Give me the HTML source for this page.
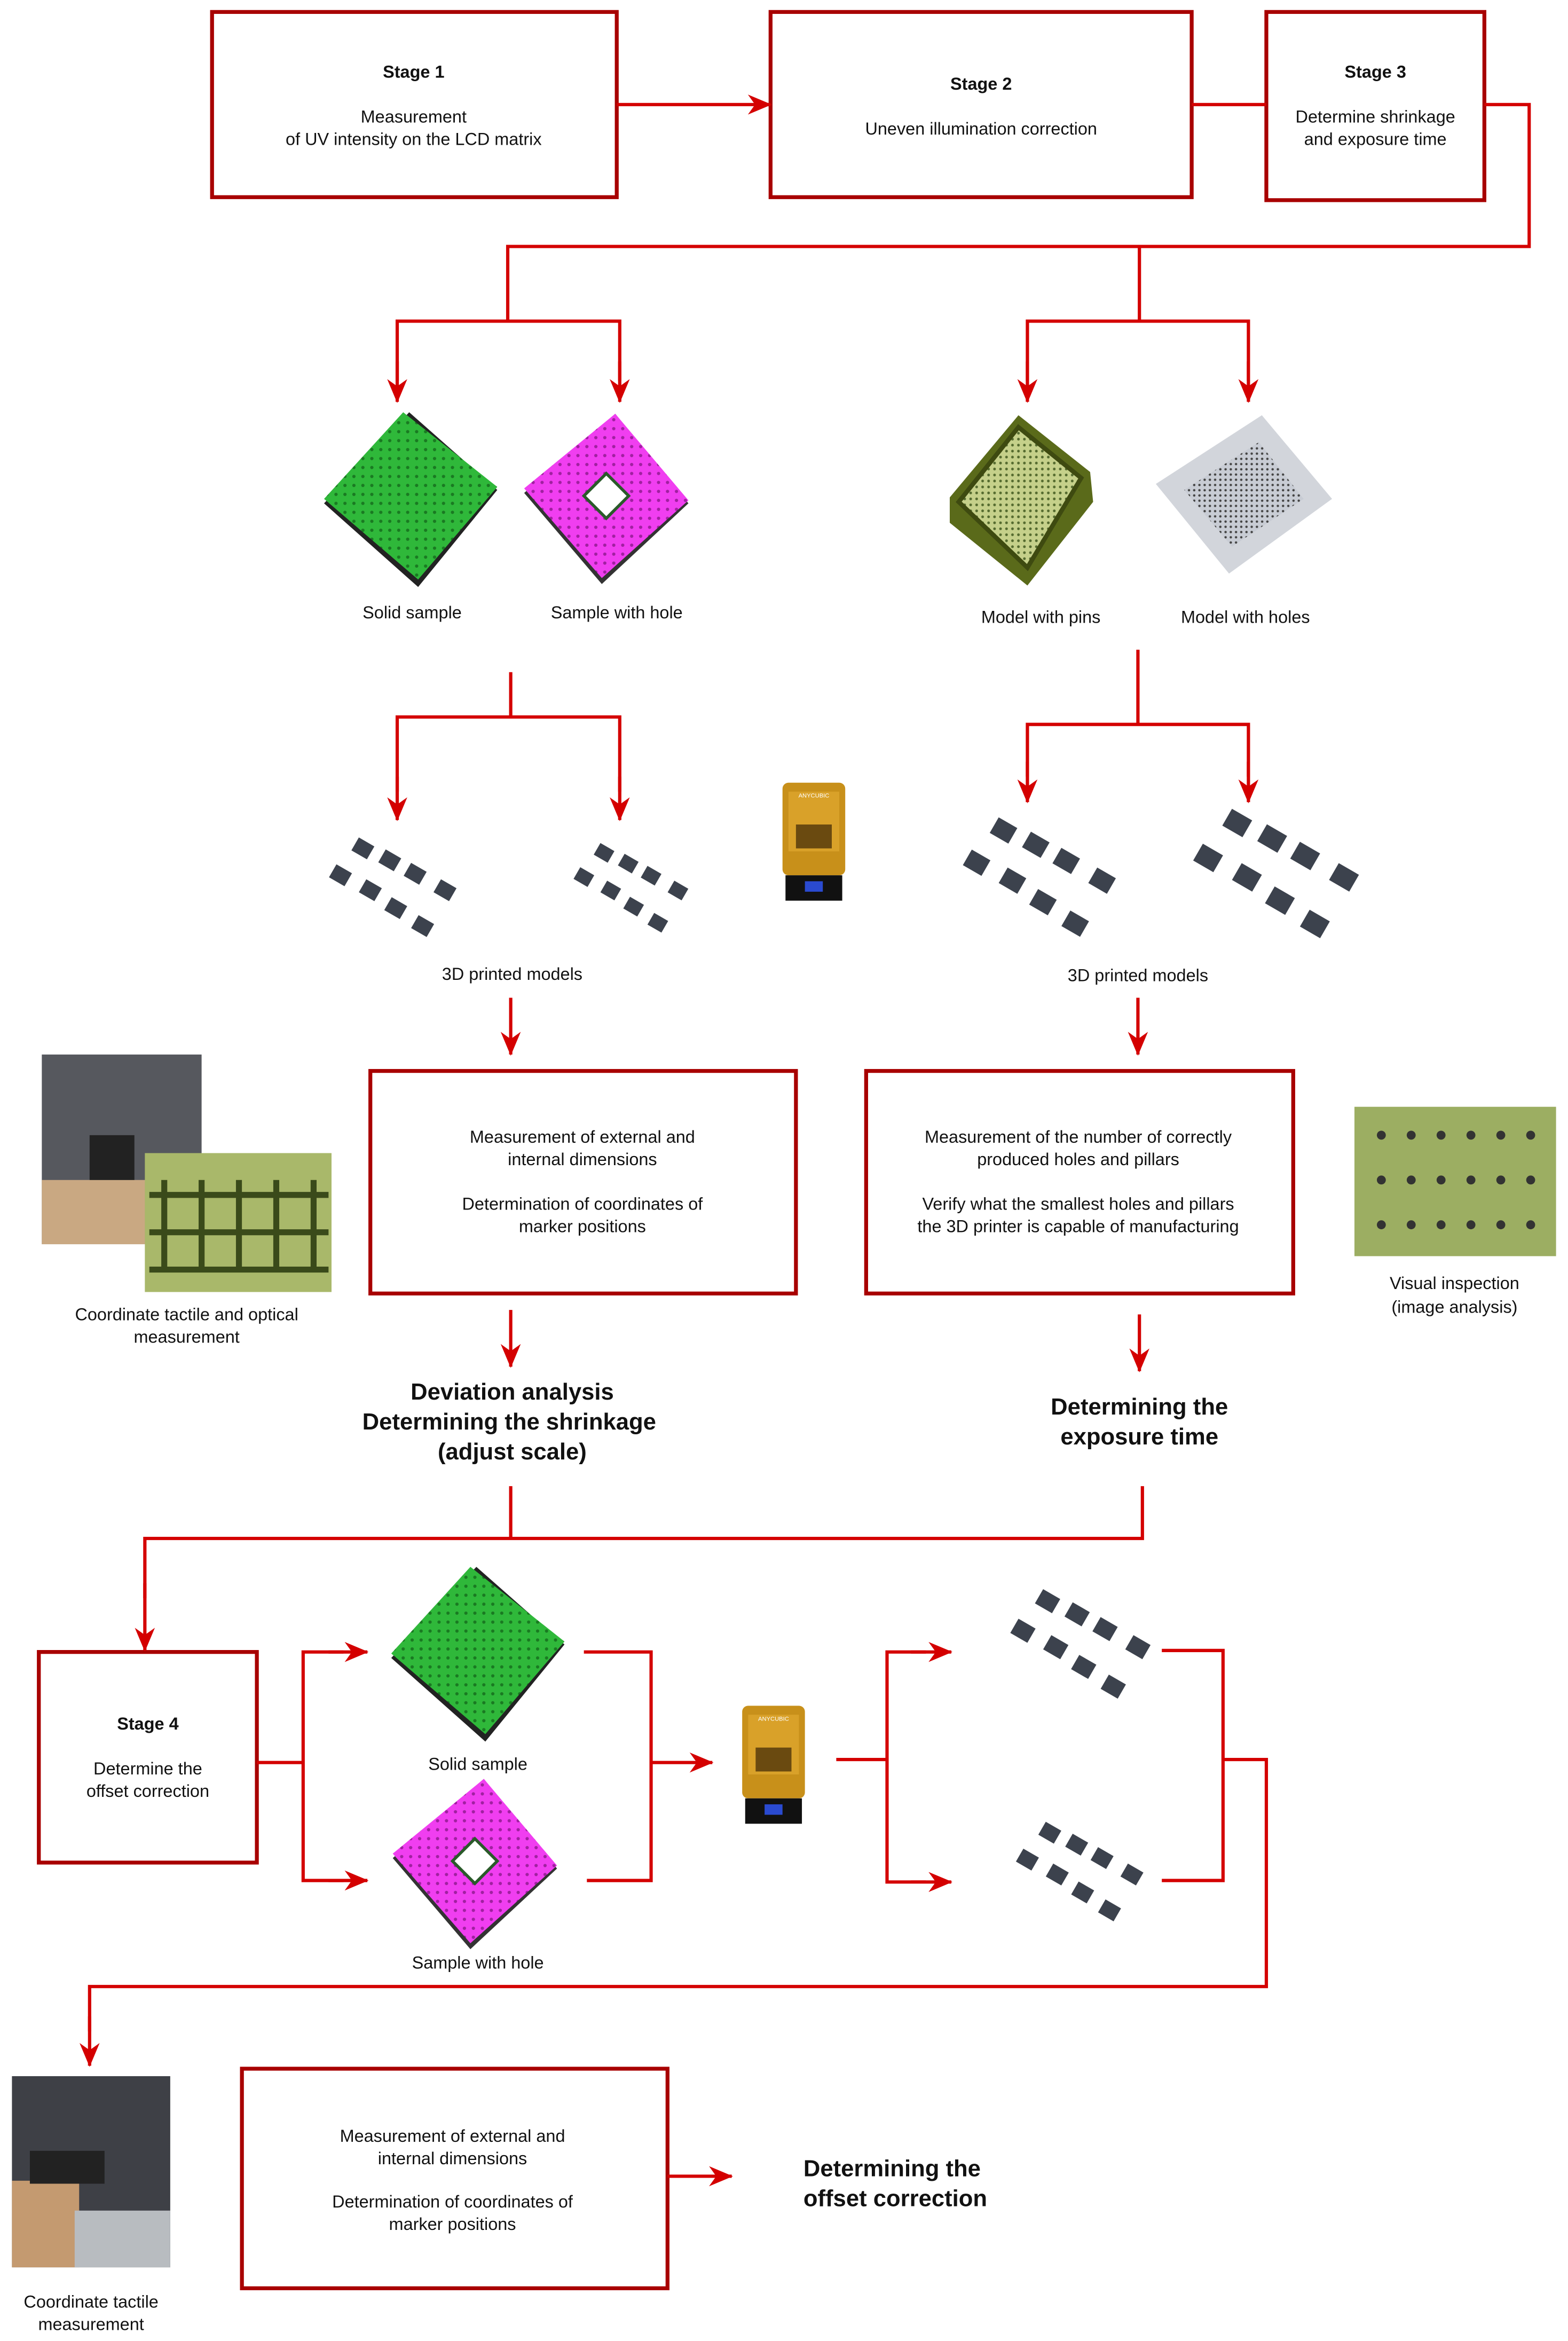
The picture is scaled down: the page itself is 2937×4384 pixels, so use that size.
<!DOCTYPE html>
<html><head><meta charset="utf-8"><style>
html,body{margin:0;padding:0;background:#fff;}
svg{display:block}
text{font-family:"Liberation Sans",sans-serif;fill:#111;}
</style></head><body>
<svg width="2937" height="4384" viewBox="0 0 1050 1567.3" xmlns="http://www.w3.org/2000/svg">
<defs>
<marker id="a" viewBox="0 0 10 10" refX="9.5" refY="5" markerWidth="16" markerHeight="16" markerUnits="userSpaceOnUse" orient="auto"><path d="M0,0.8 L10,5 L0,9.2 L3,5 Z" fill="#d40000"/></marker>
<pattern id="dg" width="6" height="6" patternUnits="userSpaceOnUse"><rect width="6" height="6" fill="#2fb83a"/><circle cx="3" cy="3" r="1.1" fill="#1a7a22"/></pattern>
<pattern id="dm" width="6" height="6" patternUnits="userSpaceOnUse"><rect width="6" height="6" fill="#f03ef0"/><circle cx="3" cy="3" r="1.1" fill="#a020a0"/></pattern>
<pattern id="dh" width="3.5" height="3.5" patternUnits="userSpaceOnUse"><rect width="3.5" height="3.5" fill="#c8ccd4"/><circle cx="1.7" cy="1.7" r="0.8" fill="#444"/></pattern>
<pattern id="dt" width="4" height="4" patternUnits="userSpaceOnUse"><rect width="4" height="4" fill="#c5d08a"/><circle cx="2" cy="2" r="0.9" fill="#556b2f"/></pattern>
<g id="green"><polygon points="-59,3 -2,-58 57,-6 4,59" fill="#222"/><polygon points="-59,0 -6,-58 57,-8 4,54" fill="url(#dg)"/></g>
<g id="mag"><polygon points="-57,-2 4,-55 53,5 -5,59" fill="#333"/><polygon points="-57,-5 4,-55 53,3 -5,55" fill="url(#dm)"/><polygon points="-2,-15 13,0 -2,15 -17,0" fill="#fff" stroke="#2a5a2a" stroke-width="2"/></g>
<g id="tile"><rect x="-6" y="-5" width="12" height="10" fill="#3c424d" transform="rotate(30)"/></g>
<g id="tiles">
<use href="#tile" x="-15" y="-30"/><use href="#tile" x="3" y="-22"/><use href="#tile" x="20" y="-13"/><use href="#tile" x="40" y="-2"/>
<use href="#tile" x="-30" y="-12"/><use href="#tile" x="-10" y="-2"/><use href="#tile" x="7" y="10"/><use href="#tile" x="25" y="22"/>
</g>
<g id="printer"><rect x="-21" y="-38" width="42" height="62" rx="4" fill="#c8901a"/><rect x="-17" y="-32" width="34" height="40" fill="#e0a830" opacity="0.7"/><rect x="-12" y="-10" width="24" height="16" fill="#6a4a10"/><rect x="-19" y="24" width="38" height="17" fill="#111"/><rect x="-6" y="28" width="12" height="7" fill="#2a4ad0"/><text x="0" y="-28" font-size="4" text-anchor="middle" style="fill:#fff">ANYCUBIC</text></g>
</defs>
<g fill="none" stroke="#a80000" stroke-width="2.6">
<rect x="142" y="8" width="271" height="124"/>
<rect x="516" y="8" width="282" height="124"/>
<rect x="848" y="8" width="146" height="126"/>
<rect x="248" y="717" width="285" height="149"/>
<rect x="580" y="717" width="286" height="149"/>
<rect x="26" y="1106" width="146" height="141"/>
<rect x="162" y="1385" width="285" height="147"/>
</g>
<g fill="none" stroke="#d40000" stroke-width="2.2">
<path d="M413,70 H516" marker-end="url(#a)"/>
<path d="M798,70 H848 M994,70 H1024 V165 H340 V215 M266,255 V215 H415 V255 M763,165 V215 M688,255 V215 H836 V255"/>
<path d="M266,242 V269" marker-end="url(#a)"/><path d="M415,242 V269" marker-end="url(#a)"/>
<path d="M688,242 V269" marker-end="url(#a)"/><path d="M836,242 V269" marker-end="url(#a)"/>
<path d="M342,450 V480 H266 V530 M342,480 H415 V530 M762,435 V485 H688 V520 M762,485 H836 V520"/>
<path d="M266,520 V549" marker-end="url(#a)"/><path d="M415,520 V549" marker-end="url(#a)"/>
<path d="M688,510 V537" marker-end="url(#a)"/><path d="M836,510 V537" marker-end="url(#a)"/>
<path d="M342,668 V706" marker-end="url(#a)"/><path d="M762,668 V706" marker-end="url(#a)"/>
<path d="M342,877 V915" marker-end="url(#a)"/><path d="M763,880 V918" marker-end="url(#a)"/>
<path d="M342,995 V1030 M765,995 V1030 H97 V1070"/><path d="M97,1060 V1105" marker-end="url(#a)"/>
<path d="M172,1180 H203 V1106 H230 M203,1180 V1259 H230"/>
<path d="M220,1106 H246" marker-end="url(#a)"/><path d="M220,1259 H246" marker-end="url(#a)"/>
<path d="M391,1106 H436 V1259 H393"/><path d="M436,1180 H477" marker-end="url(#a)"/>
<path d="M560,1178 H594 V1106 H620 M594,1178 V1260 H620"/>
<path d="M610,1106 H637" marker-end="url(#a)"/><path d="M610,1260 H637" marker-end="url(#a)"/>
<path d="M778,1105 H819 V1259 H778 M819,1178 H848 V1330 H60 V1360"/><path d="M60,1350 V1383" marker-end="url(#a)"/>
<path d="M447,1457 H490" marker-end="url(#a)"/>
</g>
<use href="#green" x="276" y="334"/>
<use href="#mag" x="408" y="332"/>
<g transform="translate(692,336)"><polygon points="-56,-3 -10,-58 38,-20 40,0 -4,56 -56,14" fill="#5a6a1a"/><polygon points="-50,0 -10,-50 32,-16 -4,44" fill="url(#dt)" stroke="#3e4a10" stroke-width="3"/></g>
<g transform="translate(833,330)"><polygon points="-59,-6 12,-52 59,4 -10,54" fill="#d2d5db"/><polygon points="-40,-2 10,-34 40,4 -8,36" fill="url(#dh)"/></g>
<use href="#tiles" x="258" y="598"/>
<g transform="translate(418,598) scale(0.9)"><use href="#tiles"/></g>
<use href="#printer" x="545" y="562"/>
<g transform="translate(690,592) scale(1.2)"><use href="#tiles"/></g>
<g transform="translate(848,590) scale(1.3)"><use href="#tiles"/></g>
<use href="#green" x="321" y="1107"/>
<use href="#mag" x="320" y="1246"/>
<use href="#printer" x="518" y="1180"/>
<g transform="translate(718,1105) scale(1.1)"><use href="#tiles"/></g>
<g transform="translate(718,1257)"><use href="#tiles"/></g>
<rect x="28" y="706" width="107" height="127" fill="#56585e"/><rect x="28" y="790" width="70" height="43" fill="#c9a882"/><rect x="60" y="760" width="30" height="30" fill="#222"/>
<rect x="97" y="772" width="125" height="93" fill="#a9b86a"/>
<g stroke="#3a4a1a" stroke-width="4"><path d="M110,790 V850 M135,790 V850 M160,790 V850 M185,790 V850 M210,790 V850 M100,800 H220 M100,825 H220 M100,850 H220"/></g>
<rect x="907" y="741" width="135" height="100" fill="#9cae62"/>
<g fill="#333"><circle cx="925" cy="760" r="3"/><circle cx="945" cy="760" r="3"/><circle cx="965" cy="760" r="3"/><circle cx="985" cy="760" r="3"/><circle cx="1005" cy="760" r="3"/><circle cx="1025" cy="760" r="3"/><circle cx="925" cy="790" r="3"/><circle cx="945" cy="790" r="3"/><circle cx="965" cy="790" r="3"/><circle cx="985" cy="790" r="3"/><circle cx="1005" cy="790" r="3"/><circle cx="1025" cy="790" r="3"/><circle cx="925" cy="820" r="3"/><circle cx="945" cy="820" r="3"/><circle cx="965" cy="820" r="3"/><circle cx="985" cy="820" r="3"/><circle cx="1005" cy="820" r="3"/><circle cx="1025" cy="820" r="3"/></g>
<rect x="8" y="1390" width="106" height="128" fill="#3e4046"/><rect x="8" y="1460" width="45" height="58" fill="#c49a70"/><rect x="50" y="1480" width="64" height="38" fill="#b8bcc0"/><rect x="20" y="1440" width="50" height="22" fill="#222"/>
<g font-size="11.6" text-anchor="middle">
<text x="277" y="52" font-weight="bold">Stage 1</text>
<text x="277" y="82">Measurement</text><text x="277" y="97">of UV intensity on the LCD matrix</text>
<text x="657" y="60" font-weight="bold">Stage 2</text>
<text x="657" y="90">Uneven illumination correction</text>
<text x="921" y="52" font-weight="bold">Stage 3</text>
<text x="921" y="82">Determine shrinkage</text><text x="921" y="97">and exposure time</text>
<text x="276" y="414">Solid sample</text><text x="413" y="414">Sample with hole</text>
<text x="697" y="417">Model with pins</text><text x="834" y="417">Model with holes</text>
<text x="343" y="656">3D printed models</text><text x="762" y="657">3D printed models</text>
<text x="390" y="765">Measurement of external and</text><text x="390" y="780">internal dimensions</text>
<text x="390" y="810">Determination of coordinates of</text><text x="390" y="825">marker positions</text>
<text x="722" y="765">Measurement of the number of correctly</text><text x="722" y="780">produced holes and pillars</text>
<text x="722" y="810">Verify what the smallest holes and pillars</text><text x="722" y="825">the 3D printer is capable of manufacturing</text>
<text x="125" y="884">Coordinate tactile and optical</text><text x="125" y="899">measurement</text>
<text x="974" y="863">Visual inspection</text><text x="974" y="879">(image analysis)</text>
<text x="99" y="1158" font-weight="bold">Stage 4</text>
<text x="99" y="1188">Determine the</text><text x="99" y="1203">offset correction</text>
<text x="320" y="1185">Solid sample</text><text x="320" y="1318">Sample with hole</text>
<text x="303" y="1434">Measurement of external and</text><text x="303" y="1449">internal dimensions</text>
<text x="303" y="1478">Determination of coordinates of</text><text x="303" y="1493">marker positions</text>
<text x="61" y="1545">Coordinate tactile</text><text x="61" y="1560">measurement</text>
</g>
<g font-size="15.6" font-weight="bold" text-anchor="middle">
<text x="343" y="937">Deviation analysis</text><text x="341" y="957">Determining the shrinkage</text><text x="343" y="977">(adjust scale)</text>
<text x="763" y="947">Determining the</text><text x="763" y="967">exposure time</text>
<text x="538" y="1457" text-anchor="start">Determining the</text><text x="538" y="1477" text-anchor="start">offset correction</text>
</g>
</svg>
</body></html>
